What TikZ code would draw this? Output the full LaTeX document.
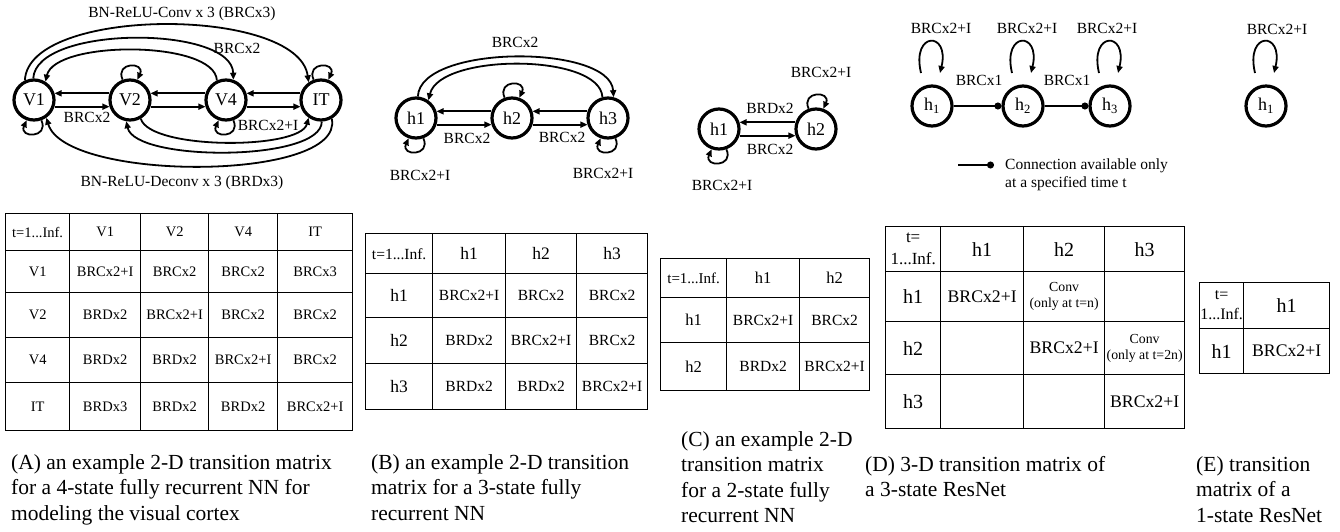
\documentclass[tikz,border=0pt]{standalone}
\usepackage{fontspec}
\setmainfont{Liberation Serif}
\usetikzlibrary{positioning,arrows.meta,calc,matrix}
\newcommand{\fsz}[2]{\fontsize{#1}{#2}\selectfont}
\newcommand{\twol}[2]{\begin{tabular}{@{}c@{}}#1\\#2\end{tabular}}

\begin{document}
\begin{tikzpicture}[x=1pt, y=-1pt,
  state/.style={circle, draw, line width=3.2pt, minimum size=40pt, inner sep=0pt, font=\fsz{18}{20}},
  arr/.style={line width=1.8pt, -{Triangle[length=7pt,width=6pt]}},
  dotarr/.style={line width=1.4pt, -{Circle[length=7pt]}},
  lbl/.style={font=\fsz{15.5}{18}, inner sep=1pt},
  captxt/.style={font=\fsz{21.5}{25.5}, align=left, anchor=north west, inner sep=0pt},
  tbl/.style={matrix of nodes, nodes in empty cells, anchor=north west, inner sep=0pt,
    column sep=-0.9pt, row sep=-0.9pt,
    nodes={draw, line width=0.9pt, inner sep=0pt, anchor=center}}]
  \useasboundingbox (0,0) rectangle (1340,531);

  % (A) four states of the visual cortex
  \node[state] (V1) at (34,100) {V1};
  \node[state, on grid, right=96pt of V1] (V2) {V2};
  \node[state, on grid, right=96pt of V2] (V4) {V4};
  \node[state, on grid, right=95pt of V4] (IT) {IT};
  \foreach \a/\b in {V1/V2, V2/V4, V4/IT}{
    \draw[arr] (\b.162) -- (\a.18);
    \draw[arr] (\a.-18) -- (\b.198);
  }
  \draw[arr] (V2.110) .. controls +(-8,-18) and +(8,-18) .. (V2.70);
  \draw[arr] (IT.110) .. controls +(-8,-18) and +(8,-18) .. (IT.70);
  \draw[arr] (V1.-70) .. controls +(8,18) and +(-8,18) .. (V1.-110);
  \draw[arr] (V4.-70) .. controls +(8,18) and +(-8,18) .. (V4.-110);
  \draw[arr] (V1.115) .. controls (28,6) and (298,6) .. (IT.125);
  \draw[arr] (V1.92) .. controls (36,25) and (232,25) .. (V4.70);
  \draw[arr] (V4.115) .. controls (215,40) and (55,40) .. (V1.58);
  \draw[arr] (IT.-60) .. controls (345,182) and (65,182) .. (V1.-55);
  \draw[arr] (IT.-88) .. controls (322,162) and (135,162) .. (V2.-100);
  \draw[arr] (V2.-60) .. controls (150,150) and (300,150) .. (IT.-125);
  \node[lbl] (aConv) at (182,14) {BN-ReLU-Conv x 3 (BRCx3)};
  \node[lbl] (aV14) at (237,48) {BRCx2};
  \node[lbl] (aV12) at (87,117) {BRCx2};
  \node[lbl] (aV4I) at (268,125) {BRCx2+I};
  \node[lbl] (aDeconv) at (182,183) {BN-ReLU-Deconv x 3 (BRDx3)};

  \matrix[tbl, font=\fsz{14.5}{16},
    column 1/.style={nodes={minimum width=64pt}}, column 2/.style={nodes={minimum width=71pt}},
    column 3/.style={nodes={minimum width=68pt}}, column 4/.style={nodes={minimum width=69pt}},
    column 5/.style={nodes={minimum width=75pt}},
    row 1/.style={nodes={minimum height=37pt}}, row 2/.style={nodes={minimum height=42pt}},
    row 3/.style={nodes={minimum height=45pt}}, row 4/.style={nodes={minimum height=45pt}},
    row 5/.style={nodes={minimum height=48pt}}] (mA) at (5,213) {
    t=1...Inf. & V1 & V2 & V4 & IT \\
    V1 & BRCx2+I & BRCx2 & BRCx2 & BRCx3 \\
    V2 & BRDx2 & BRCx2+I & BRCx2 & BRCx2 \\
    V4 & BRDx2 & BRDx2 & BRCx2+I & BRCx2 \\
    IT & BRDx3 & BRDx2 & BRDx2 & BRCx2+I \\
  };
  \node[captxt] (capA) at (11,454) {(A) an example 2-D transition matrix\\for a 4-state fully recurrent NN for\\modeling the visual cortex};

  % (B) three states, fully recurrent
  \node[state] (b1) at (416,118) {h1};
  \node[state, on grid, right=96pt of b1] (b2) {h2};
  \node[state, on grid, right=96pt of b2] (b3) {h3};
  \foreach \a/\b in {b1/b2, b2/b3}{
    \draw[arr] (\b.162) -- (\a.18);
    \draw[arr] (\a.-18) -- (\b.198);
  }
  \draw[arr] (b2.110) .. controls +(-8,-18) and +(8,-18) .. (b2.70);
  \draw[arr] (b1.-70) .. controls +(8,18) and +(-8,18) .. (b1.-110);
  \draw[arr] (b3.-70) .. controls +(8,18) and +(-8,18) .. (b3.-110);
  \draw[arr] (b1.85) .. controls (420,44) and (610,44) .. (b3.75);
  \draw[arr] (b3.105) .. controls (600,53) and (440,53) .. (b1.55);
  \node[lbl] (bTop) at (515,42) {BRCx2};
  \node[lbl] (b12) at (467,138) {BRCx2};
  \node[lbl] (b23) at (562,137) {BRCx2};
  \node[lbl] (b1I) at (420,175) {BRCx2+I};
  \node[lbl] (b3I) at (603,173) {BRCx2+I};

  \matrix[tbl, font=\fsz{15.5}{18},
    column 1/.style={nodes={minimum width=67pt, font=\fsz{17.5}{20}}}, column 2/.style={nodes={minimum width=73pt}},
    column 3/.style={nodes={minimum width=71pt}}, column 4/.style={nodes={minimum width=71pt}},
    row 1/.style={nodes={minimum height=40pt, font=\fsz{17.5}{20}}}, row 2/.style={nodes={minimum height=44pt}},
    row 3/.style={nodes={minimum height=46pt}}, row 4/.style={nodes={minimum height=46pt}}] (mB) at (365,233) {
    |[font=\fsz{15.5}{18}]| t=1...Inf. & h1 & h2 & h3 \\
    h1 & BRCx2+I & BRCx2 & BRCx2 \\
    h2 & BRDx2 & BRCx2+I & BRCx2 \\
    h3 & BRDx2 & BRDx2 & BRCx2+I \\
  };
  \node[captxt] (capB) at (371,454) {(B) an example 2-D transition\\matrix for a 3-state fully\\recurrent NN};

  % (C) two states, fully recurrent
  \node[state] (c1) at (719,129) {h1};
  \node[state, on grid, right=97pt of c1] (c2) {h2};
  \draw[arr] (c2.162) -- (c1.18);
  \draw[arr] (c1.-18) -- (c2.198);
  \draw[arr] (c2.110) .. controls +(-8,-18) and +(8,-18) .. (c2.70);
  \draw[arr] (c1.-70) .. controls +(8,18) and +(-8,18) .. (c1.-110);
  \node[lbl] (cUp) at (770,108) {BRDx2};
  \node[lbl] (cDown) at (770,149) {BRCx2};
  \node[lbl] (c2I) at (821,72) {BRCx2+I};
  \node[lbl] (c1I) at (722,185) {BRCx2+I};

  \matrix[tbl, font=\fsz{15.5}{18},
    column 1/.style={nodes={minimum width=66pt, font=\fsz{16.5}{19}}}, column 2/.style={nodes={minimum width=73pt}},
    column 3/.style={nodes={minimum width=70pt}},
    row 1/.style={nodes={minimum height=39pt, font=\fsz{16.5}{19}}}, row 2/.style={nodes={minimum height=45pt}},
    row 3/.style={nodes={minimum height=48pt}}] (mC) at (660,258) {
    |[font=\fsz{15}{18}]| t=1...Inf. & h1 & h2 \\
    h1 & BRCx2+I & BRCx2 \\
    h2 & BRDx2 & BRCx2+I \\
  };
  \node[captxt] (capC) at (681,431) {(C) an example 2-D\\transition matrix\\for a 2-state fully\\recurrent NN};

  % (D) three-state ResNet
  \node[state] (d1) at (932,106) {h\textsubscript{1}};
  \node[state, on grid, right=91pt of d1] (d2) {h\textsubscript{2}};
  \node[state, on grid, right=87pt of d2] (d3) {h\textsubscript{3}};
  \draw[dotarr] (d1) -- (d2);
  \draw[dotarr] (d2) -- (d3);
  \foreach \n in {d1, d2, d3}
    \draw[arr] ([shift={(-11,-33)}]\n.center) .. controls +(-10,-42) and +(10,-42) .. ([shift={(8,-33)}]\n.center);
  \node[lbl] (d12) at (979,80) {BRCx1};
  \node[lbl] (d23) at (1067,80) {BRCx1};
  \node[lbl] (d1I) at (941,28) {BRCx2+I};
  \node[lbl] (d2I) at (1027,28) {BRCx2+I};
  \node[lbl] (d3I) at (1107,28) {BRCx2+I};
  \coordinate (legA) at (958,165);
  \coordinate (legB) at (994,165);
  \draw[dotarr] (legA) -- (legB);
  \node[lbl, align=left, right=10pt of legB, yshift=-10pt] (legText) {Connection available only\\at a specified time t};

  \matrix[tbl, font=\fsz{17.7}{20},
    column 1/.style={nodes={minimum width=55pt, font=\fsz{20}{22}}}, column 2/.style={nodes={minimum width=83pt}},
    column 3/.style={nodes={minimum width=81pt}}, column 4/.style={nodes={minimum width=80pt}},
    row 1/.style={nodes={minimum height=45pt, font=\fsz{20}{22}}}, row 2/.style={nodes={minimum height=50pt}},
    row 3/.style={nodes={minimum height=53pt}}, row 4/.style={nodes={minimum height=54pt}}] (mD) at (885,226) {
    |[font=\fsz{17}{22}]| \twol{t=}{1...Inf.} & h1 & h2 & h3 \\
    h1 & BRCx2+I & |[font=\fsz{13.8}{16}]| \twol{Conv}{(only at t=n)} & \\
    h2 & & BRCx2+I & |[font=\fsz{13.8}{16}]| \twol{Conv}{(only at t=2n)} \\
    h3 & & & BRCx2+I \\
  };
  \node[captxt] (capD) at (865,456) {(D) 3-D transition matrix of\\a 3-state ResNet};

  % (E) one-state ResNet
  \node[state] (e1) at (1266,106) {h\textsubscript{1}};
  \draw[arr] ([shift={(-11,-33)}]e1.center) .. controls +(-10,-42) and +(10,-42) .. ([shift={(8,-33)}]e1.center);
  \node[lbl] (e1I) at (1277,29) {BRCx2+I};

  \matrix[tbl, font=\fsz{17.7}{20},
    column 1/.style={nodes={minimum width=44pt, font=\fsz{20}{22}}}, column 2/.style={nodes={minimum width=86pt}},
    row 1/.style={nodes={minimum height=46pt, font=\fsz{20}{22}}}, row 2/.style={nodes={minimum height=45pt}}] (mE) at (1199,282) {
    |[font=\fsz{16}{20}]| \twol{t=}{1...Inf.} & h1 \\
    h1 & BRCx2+I \\
  };
  \node[captxt] (capE) at (1196,456) {(E) transition\\matrix of a\\1-state ResNet};
\end{tikzpicture}
\end{document}
